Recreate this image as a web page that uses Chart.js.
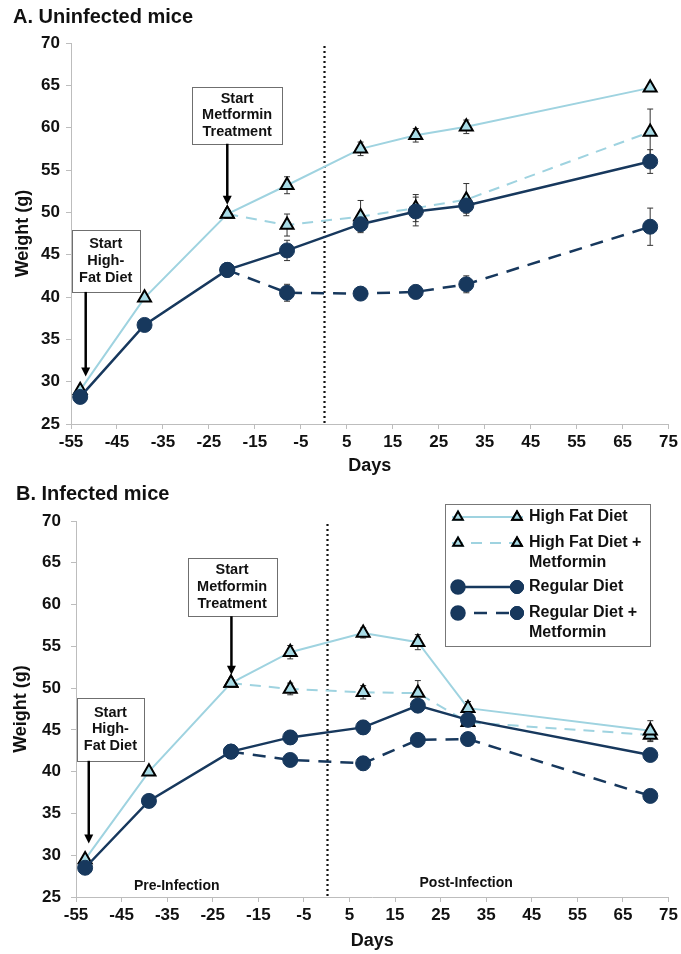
<!DOCTYPE html>
<html>
<head>
<meta charset="utf-8">
<script src="https://cdn.jsdelivr.net/npm/chart.js@4.4.1/dist/chart.umd.min.js"></script>
<style>
  html, body { margin: 0; padding: 0; background: #fff; }
  body { width: 681px; height: 954px; position: relative; overflow: hidden;
         font-family: "Liberation Sans", Arial, sans-serif; }
  canvas { position: absolute; left: 0; }
  .panel-title { position: absolute; font-weight: bold; font-size: 20px; line-height: 24px;
                 color: #111; z-index: 2; white-space: nowrap; }
</style>
</head>
<body>
<canvas id="chartA" width="681" height="480" style="top:0"></canvas>
<canvas id="chartB" width="681" height="474" style="top:480px"></canvas>
<div class="panel-title" style="left:13px;top:4px">A. Uninfected mice</div>
<div class="panel-title" style="left:16px;top:481px">B. Infected mice</div>

<script>
// ---- data ----
const days = [-53, -39, -21, -8, 8, 20, 31, 71];
const dayTicks = [-55, -45, -35, -25, -15, -5, 5, 15, 25, 35, 45, 55, 65, 75];
const weightTicks = [25, 30, 35, 40, 45, 50, 55, 60, 65, 70];
const seriesNames = ['High Fat Diet', 'High Fat Diet + Metformin', 'Regular Diet', 'Regular Diet + Metformin'];

// A. Uninfected mice: mean weight (g) and error
const uninfHFD      = [29.0, 39.9, 49.8, 53.2, 57.5, 59.1, 60.1, 64.7];
const uninfHFDMet   = [null, null, 49.8, 48.5, 49.5, 50.5, 51.5, 59.5];
const uninfRD       = [28.2, 36.7, 43.2, 45.5, 48.6, 50.1, 50.8, 56.0];
const uninfRDMet    = [null, null, 43.2, 40.5, 40.4, 40.6, 41.5, 48.3];
const uninfHFDErr    = [0, 0, 0.3, 1.0, 0.8, 0.8, 0.8, 0.4];
const uninfHFDMetErr = [0, 0, 0, 1.3, 1.9, 1.6, 1.9, 2.7];
const uninfRDErr     = [0, 0, 0.8, 1.2, 0.8, 1.7, 0.9, 1.4];
const uninfRDMetErr  = [0, 0, 0, 1.0, 0.7, 0.8, 1.0, 2.2];

// B. Infected mice: mean weight (g) and error
const infHFD        = [29.5, 40.0, 50.6, 54.3, 56.6, 55.5, 47.6, 44.9];
const infHFDMet     = [null, null, 50.6, 49.9, 49.5, 49.4, 45.9, 44.4];
const infRD         = [28.5, 36.5, 42.4, 44.1, 45.3, 47.9, 46.2, 42.0];
const infRDMet      = [null, null, 42.4, 41.4, 41.0, 43.8, 43.9, 37.1];
const infHFDErr      = [0, 0, 0, 0.8, 0.6, 0.9, 0.8, 1.2];
const infHFDMetErr   = [0, 0, 0, 0.7, 0.8, 1.5, 0.5, 0.8];
const infRDErr       = [0, 0, 0, 0.8, 0.8, 0.5, 0.5, 0.5];
const infRDMetErr    = [0, 0, 0, 0.5, 0.8, 0.8, 0.5, 0.5];

// ---- styles ----
const FONT = '"Liberation Sans", Arial, sans-serif';
const LIGHT_LINE = '#9fd3e0';
const LIGHT_FILL = '#a8dbe6';
const NAVY = '#17385d';
const AXIS = '#bdbdbd';
const TEXT = '#111';

const styleHFD   = { borderColor: LIGHT_LINE, borderWidth: 2, pointStyle: 'triangle', pointRadius: 7.5,
                     pointBackgroundColor: LIGHT_FILL, pointBorderColor: '#000', pointBorderWidth: 2, order: 2 };
const styleHFDM  = Object.assign({}, styleHFD, { borderDash: [11, 8], order: 3 });
const styleRD    = { borderColor: NAVY, borderWidth: 2.5, pointStyle: 'circle', pointRadius: 7.5,
                     pointBackgroundColor: NAVY, pointBorderColor: NAVY, pointBorderWidth: 1, order: 0 };
const styleRDM   = Object.assign({}, styleRD, { borderDash: [13, 9], order: 1 });

function makeDataset(label, values, errors, style) {
  return Object.assign({
    label,
    data: days.map((d, i) => ({ x: d, y: values[i] })),
    err: errors,
    tension: 0,
    fill: false
  }, style);
}

// error bars, drawn beneath the markers
const errorBarPlugin = {
  id: 'errorBars',
  beforeDatasetsDraw(chart) {
    const { ctx, scales: { x, y } } = chart;
    ctx.save();
    ctx.strokeStyle = '#333';
    ctx.lineWidth = 1;
    chart.data.datasets.forEach(ds => {
      ds.data.forEach((p, i) => {
        const e = ds.err[i];
        if (p.y == null || !e) return;
        const px = x.getPixelForValue(p.x);
        const top = y.getPixelForValue(p.y + e);
        const bot = y.getPixelForValue(p.y - e);
        ctx.beginPath();
        ctx.moveTo(px, top); ctx.lineTo(px, bot);
        ctx.moveTo(px - 3, top); ctx.lineTo(px + 3, top);
        ctx.moveTo(px - 3, bot); ctx.lineTo(px + 3, bot);
        ctx.stroke();
      });
    });
    ctx.restore();
  }
};

// dotted line marking day 0 (infection)
const dividerPlugin = {
  id: 'divider',
  beforeDatasetsDraw(chart) {
    const { ctx, chartArea, scales: { x } } = chart;
    const px = Math.round(x.getPixelForValue(0)) + 0.5;
    ctx.save();
    ctx.strokeStyle = '#111';
    ctx.lineWidth = 2.2;
    ctx.setLineDash([2, 3]);
    ctx.beginPath();
    ctx.moveTo(px, chartArea.top + 3);
    ctx.lineTo(px, chartArea.bottom);
    ctx.stroke();
    ctx.restore();
  }
};

// callout boxes with arrows, and phase labels
const calloutPlugin = {
  id: 'callouts',
  afterDatasetsDraw(chart, args, opts) {
    const { ctx, scales: { x, y } } = chart;
    ctx.save();
    (opts.boxes || []).forEach(b => {
      const x1 = x.getPixelForValue(b.x1), x2 = x.getPixelForValue(b.x2);
      const y1 = y.getPixelForValue(b.y1), y2 = y.getPixelForValue(b.y2);
      ctx.fillStyle = '#fff';
      ctx.fillRect(x1, y1, x2 - x1, y2 - y1);
      ctx.strokeStyle = '#6f6f6f';
      ctx.lineWidth = 1;
      ctx.strokeRect(Math.round(x1) + 0.5, Math.round(y1) + 0.5, Math.round(x2 - x1), Math.round(y2 - y1));
      ctx.fillStyle = TEXT;
      ctx.font = 'bold 14.5px ' + FONT;
      ctx.textAlign = 'center';
      ctx.textBaseline = 'middle';
      const cx = (x1 + x2) / 2, cy = (y1 + y2) / 2;
      const lh = 16.8;
      b.lines.forEach((t, i) => ctx.fillText(t, cx, cy + (i - (b.lines.length - 1) / 2) * lh));
      // arrow
      const ax = x.getPixelForValue(b.arrowX);
      const tip = y.getPixelForValue(b.arrowTip);
      ctx.strokeStyle = '#000';
      ctx.lineWidth = 2.5;
      ctx.beginPath();
      ctx.moveTo(ax, y2);
      ctx.lineTo(ax, tip - 7);
      ctx.stroke();
      ctx.fillStyle = '#000';
      ctx.beginPath();
      ctx.moveTo(ax - 4.5, tip - 9);
      ctx.lineTo(ax + 4.5, tip - 9);
      ctx.lineTo(ax, tip);
      ctx.closePath();
      ctx.fill();
    });
    (opts.labels || []).forEach(l => {
      ctx.fillStyle = TEXT;
      ctx.font = 'bold 14px ' + FONT;
      ctx.textAlign = 'center';
      ctx.textBaseline = 'middle';
      ctx.fillText(l.text, x.getPixelForValue(l.x), y.getPixelForValue(l.y));
    });
    ctx.restore();
  }
};

// boxed legend with line samples
const boxLegendPlugin = {
  id: 'boxLegend',
  afterDraw(chart, args, opts) {
    if (!opts.show) return;
    const { ctx } = chart;
    const L = opts.rect;
    ctx.save();
    ctx.fillStyle = '#fff';
    ctx.fillRect(L.x, L.y, L.w, L.h);
    ctx.strokeStyle = '#777';
    ctx.lineWidth = 1;
    ctx.strokeRect(L.x + 0.5, L.y + 0.5, L.w, L.h);
    const styles = [styleHFD, styleHFDM, styleRD, styleRDM];
    const rows = [13, 39, 83, 109];
    styles.forEach((s, i) => {
      const yy = L.y + rows[i];
      const xa = L.x + 13, xb = L.x + 72;
      ctx.strokeStyle = s.borderColor;
      ctx.lineWidth = s.borderWidth;
      ctx.setLineDash(s.borderDash || []);
      ctx.beginPath();
      ctx.moveTo(L.x + 7, yy); ctx.lineTo(L.x + 78, yy);
      ctx.stroke();
      ctx.setLineDash([]);
      [xa, xb].forEach(mx => {
        Chart.helpers.drawPoint(ctx, {
          pointStyle: s.pointStyle,
          radius: s.pointStyle === 'triangle' ? 5.5 : 6.5,
          borderWidth: s.pointStyle === 'triangle' ? 2 : 1,
          rotation: 0
        }, mx, yy);
        ctx.fillStyle = s.pointBackgroundColor;
        ctx.strokeStyle = s.pointBorderColor;
        ctx.lineWidth = s.pointStyle === 'triangle' ? 2 : 1;
        ctx.fill();
        ctx.stroke();
      });
      const parts = seriesNames[i].includes(' + ')
        ? [seriesNames[i].replace(' + Metformin', ' +'), 'Metformin']
        : [seriesNames[i]];
      ctx.fillStyle = TEXT;
      ctx.font = 'bold 16px ' + FONT;
      ctx.textAlign = 'left';
      ctx.textBaseline = 'middle';
      parts.forEach((t, k) => ctx.fillText(t, L.x + 84, yy + k * 19.5));
    });
    ctx.restore();
  }
};

function buildChart(id, sets, geom, calloutOpts, legendOpts) {
  return new Chart(document.getElementById(id), {
    type: 'line',
    data: { datasets: sets },
    plugins: [dividerPlugin, errorBarPlugin, calloutPlugin, boxLegendPlugin],
    options: {
      responsive: false,
      animation: false,
      events: [],
      spanGaps: false,
      layout: { padding: { top: geom.top, right: geom.right, left: 0, bottom: 0 } },
      plugins: {
        legend: { display: false },
        tooltip: { enabled: false },
        callouts: calloutOpts,
        boxLegend: legendOpts
      },
      scales: {
        x: {
          type: 'linear', min: -55, max: 75,
          afterBuildTicks: s => { s.ticks = dayTicks.map(v => ({ value: v })); },
          afterFit: s => { s.height = geom.xHeight; },
          grid: { drawOnChartArea: false, tickLength: 5, color: AXIS },
          border: { color: AXIS, width: 1 },
          ticks: { color: TEXT, font: { family: FONT, size: 17, weight: 'bold' }, padding: 3,
                   maxRotation: 0, autoSkip: false },
          title: { display: true, text: 'Days', color: TEXT,
                   font: { family: FONT, size: 18, weight: 'bold' },
                   padding: { top: 0, bottom: geom.xTitlePad } }
        },
        y: {
          type: 'linear', min: 25, max: 70,
          afterBuildTicks: s => { s.ticks = weightTicks.map(v => ({ value: v })); },
          afterFit: s => { s.width = geom.yWidth; },
          grid: { drawOnChartArea: false, tickLength: 5, color: AXIS },
          border: { color: AXIS, width: 1 },
          ticks: { color: TEXT, font: { family: FONT, size: 17, weight: 'bold' }, padding: geom.yTickPad },
          title: { display: true, text: 'Weight (g)', color: TEXT,
                   font: { family: FONT, size: 18, weight: 'bold' },
                   padding: { top: geom.yTitlePad, bottom: 0 } }
        }
      }
    }
  });
}

buildChart('chartA', [
  makeDataset(seriesNames[0], uninfHFD, uninfHFDErr, styleHFD),
  makeDataset(seriesNames[1], uninfHFDMet, uninfHFDMetErr, styleHFDM),
  makeDataset(seriesNames[2], uninfRD, uninfRDErr, styleRD),
  makeDataset(seriesNames[3], uninfRDMet, uninfRDMetErr, styleRDM)
], { top: 43, right: 9, xHeight: 56, xTitlePad: 3, yWidth: 71, yTickPad: 6, yTitlePad: 12 }, {
  boxes: [
    { lines: ['Start', 'Metformin', 'Treatment'], x1: -28.6, x2: -9.1, y1: 64.8, y2: 58.1, arrowX: -21, arrowTip: 50.9 },
    { lines: ['Start', 'High-', 'Fat Diet'], x1: -54.8, x2: -40.1, y1: 47.9, y2: 40.6, arrowX: -51.8, arrowTip: 30.6 }
  ],
  labels: []
}, { show: false });

buildChart('chartB', [
  makeDataset(seriesNames[0], infHFD, infHFDErr, styleHFD),
  makeDataset(seriesNames[1], infHFDMet, infHFDMetErr, styleHFDM),
  makeDataset(seriesNames[2], infRD, infRDErr, styleRD),
  makeDataset(seriesNames[3], infRDMet, infRDMetErr, styleRDM)
], { top: 41, right: 10, xHeight: 57, xTitlePad: 2, yWidth: 76, yTickPad: 10, yTitlePad: 10 }, {
  boxes: [
    { lines: ['Start', 'Metformin', 'Treatment'], x1: -30.5, x2: -11.0, y1: 65.6, y2: 58.6, arrowX: -20.9, arrowTip: 51.6 },
    { lines: ['Start', 'High-', 'Fat Diet'], x1: -54.8, x2: -40.1, y1: 48.8, y2: 41.3, arrowX: -52.2, arrowTip: 31.4 }
  ],
  labels: [
    { text: 'Pre-Infection', x: -32.9, y: 26.3 },
    { text: 'Post-Infection', x: 30.6, y: 26.7 }
  ]
}, { show: true, rect: { x: 445, y: 24, w: 205, h: 142 } });
</script>
</body>
</html>
